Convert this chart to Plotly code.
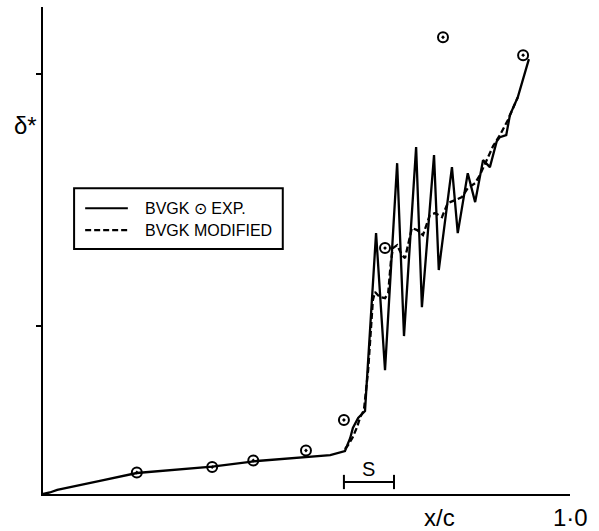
import plotly.graph_objects as go

# BVGK (solid)
bvgk_x = [0.0, 0.013, 0.027, 0.065, 0.108, 0.178, 0.247, 0.321, 0.406, 0.488, 0.545, 0.573,
          0.583, 0.588, 0.598, 0.611, 0.632, 0.649, 0.672, 0.685, 0.708, 0.719, 0.742, 0.751,
          0.776, 0.787, 0.806, 0.820, 0.835, 0.848, 0.861, 0.867, 0.879, 0.886, 0.901, 0.922]
bvgk_y = [0.0, 0.018, 0.048, 0.095, 0.155, 0.25, 0.286, 0.327, 0.393, 0.435, 0.464, 0.512,
          0.667, 0.786, 0.905, 0.988, 3.107, 1.476, 3.940, 1.881, 4.131, 2.226, 4.036, 2.667,
          3.893, 3.107, 3.821, 3.476, 3.976, 3.893, 4.202, 4.250, 4.274, 4.512, 4.726, 5.179]

# BVGK modified (dashed)
mod_x = [0.573, 0.579, 0.588, 0.596, 0.602, 0.609, 0.617, 0.626, 0.630, 0.639, 0.649, 0.655,
         0.660, 0.664, 0.672, 0.681, 0.687, 0.700, 0.710, 0.721, 0.734, 0.744, 0.757, 0.768,
         0.782, 0.795, 0.806, 0.820, 0.829, 0.842, 0.854, 0.867, 0.882, 0.896, 0.901]
mod_y = [0.536, 0.583, 0.679, 0.798, 0.917, 1.0, 1.476, 2.310, 2.405, 2.345, 2.333, 2.393,
         2.762, 2.929, 2.964, 2.845, 2.810, 3.167, 3.143, 3.083, 3.321, 3.345, 3.298, 3.464,
         3.500, 3.536, 3.643, 3.702, 3.798, 3.976, 4.143, 4.274, 4.452, 4.655, 4.726]

# Experiment
exp_x = [0.178, 0.321, 0.399, 0.499, 0.571, 0.649, 0.759, 0.911]
exp_y = [0.256, 0.321, 0.399, 0.518, 0.881, 2.929, 5.440, 5.226]

# separation region S
s_range = [0.571, 0.666]
s_level = 0.143

y_ticks = [2, 5]

FONT = "Liberation Sans"

fig = go.Figure()
fig.add_trace(go.Scatter(x=bvgk_x, y=bvgk_y, mode="lines",
                         line=dict(color="black", width=2.3), showlegend=False))
fig.add_trace(go.Scatter(x=mod_x, y=mod_y, mode="lines",
                         line=dict(color="black", width=2.3, dash="6px,3px"), showlegend=False))
fig.add_trace(go.Scatter(x=exp_x, y=exp_y, mode="markers",
                         marker=dict(symbol="circle-open-dot", size=10, color="black",
                                     line=dict(color="black", width=2)),
                         showlegend=False))

shapes = []
# S bracket
shapes.append(dict(type="line", xref="x", yref="y", x0=s_range[0], x1=s_range[1],
                   y0=s_level, y1=s_level, line=dict(color="black", width=2)))
for xv in s_range:
    shapes.append(dict(type="line", xref="x", yref="y", x0=xv, x1=xv,
                       y0=s_level - 0.085, y1=s_level + 0.085, line=dict(color="black", width=2)))
# legend box
shapes.append(dict(type="rect", xref="paper", yref="paper", x0=0.059, x1=0.455,
                   y0=0.503, y1=0.628, line=dict(color="black", width=2)))
shapes.append(dict(type="line", xref="paper", yref="paper", x0=0.080, x1=0.161,
                   y0=0.587, y1=0.587, line=dict(color="black", width=2)))
shapes.append(dict(type="line", xref="paper", yref="paper", x0=0.080, x1=0.161,
                   y0=0.542, y1=0.542, line=dict(color="black", width=2.3, dash="6px,3px")))

annotations = [
    dict(text="BVGK ⊙ EXP.", xref="paper", yref="paper", x=0.19, y=0.587,
         xanchor="left", yanchor="middle", showarrow=False,
         font=dict(family=FONT, size=16, color="black")),
    dict(text="BVGK MODIFIED", xref="paper", yref="paper", x=0.19, y=0.542,
         xanchor="left", yanchor="middle", showarrow=False,
         font=dict(family=FONT, size=16, color="black")),
    dict(text="S", xref="x", yref="y", x=(s_range[0] + s_range[1]) / 2, y=s_level,
         yshift=13, xanchor="center", yanchor="middle", showarrow=False,
         font=dict(family=FONT, size=20, color="black")),
    dict(text="x/c", xref="x", yref="paper", x=0.753, y=0, yshift=-23,
         xanchor="center", yanchor="middle", showarrow=False,
         font=dict(family=FONT, size=24, color="black")),
    dict(text="1·0", xref="x", yref="paper", x=1.0, y=0, yshift=-23,
         xanchor="center", yanchor="middle", showarrow=False,
         font=dict(family=FONT, size=24, color="black")),
    dict(text="δ*", xref="paper", yref="y", x=0, xshift=-18, y=4.39,
         xanchor="center", yanchor="middle", showarrow=False,
         font=dict(family=FONT, size=24, color="black")),
]

fig.update_layout(
    width=599, height=531,
    margin=dict(l=43, r=29, t=7, b=37),
    paper_bgcolor="white", plot_bgcolor="white",
    shapes=shapes, annotations=annotations,
    xaxis=dict(range=[0, 1.0], showgrid=False, zeroline=False, showline=True,
               linecolor="black", linewidth=2, showticklabels=False, ticks=""),
    yaxis=dict(range=[0, 5.8], showgrid=False, zeroline=False, showline=True,
               linecolor="black", linewidth=2, showticklabels=False,
               ticks="outside", ticklen=5, tickwidth=1.5, tickcolor="black",
               tickvals=y_ticks),
    showlegend=False,
)

fig.write_html("out.html", config={"displayModeBar": False},
               post_script="document.body.style.margin='0';document.body.style.padding='0';")
